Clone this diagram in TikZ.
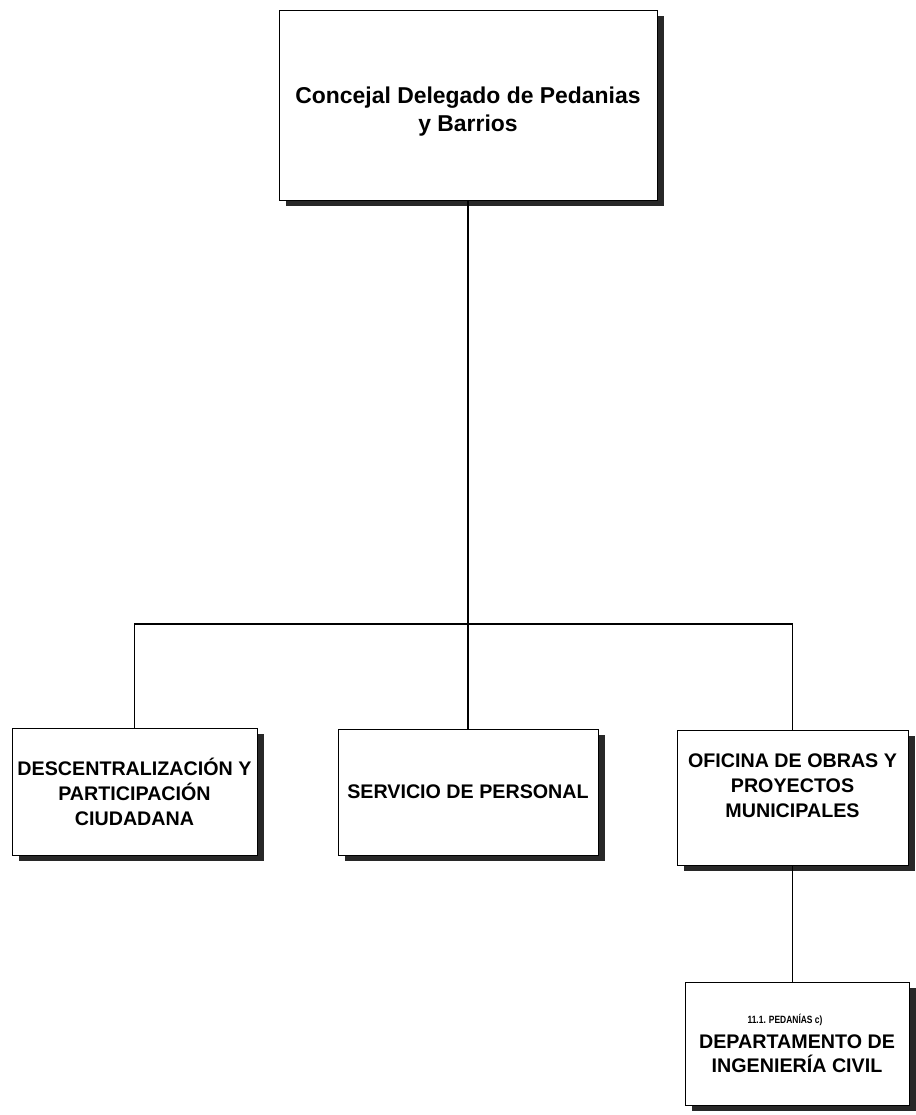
\documentclass[tikz,border=0pt]{standalone}
\usepackage{fontspec}
\setmainfont{Liberation Sans}
\usepackage{tikz}
\usetikzlibrary{positioning, calc, shadows}
\definecolor{myshadow}{RGB}{40,40,40}
\tikzset{
  unitbox/.style={rectangle, draw=black, fill=white, line width=0.6pt, align=center, inner sep=2pt,
    drop shadow={shadow xshift=0.18cm, shadow yshift=-0.16cm, fill=myshadow, opacity=1}},
  headbox/.style={unitbox, minimum width=9.45cm, minimum height=4.75cm, font=\bfseries\fontsize{16.3}{19.8}\selectfont},
  deptbox/.style={unitbox, font=\bfseries\fontsize{14}{17.7}\selectfont},
  line/.style={line width=1pt, color=black}
}

\begin{document}
\begin{tikzpicture}[x=0.025cm, y=-0.025cm]
  \useasboundingbox (0,0) rectangle (915,1115);

  % Concejal
  \node[headbox] (concejal) at (468,105) {\rule{0pt}{0.75cm}Concejal Delegado de Pedanias\\y Barrios};

  % Second level
  \node[deptbox, minimum width=6.125cm, minimum height=3.175cm] (descent) at (134.5,791.5) {DESCENTRALIZACI\'ON Y\\PARTICIPACI\'ON\\CIUDADANA};
  \node[deptbox, minimum width=6.5cm, minimum height=3.15cm] (personal) at (468,792) {SERVICIO DE PERSONAL};
  \node[deptbox, minimum width=5.775cm, minimum height=3.375cm] (obras) at (792.5,797.5) {OFICINA DE OBRAS Y\\PROYECTOS\\MUNICIPALES\rule[-0.6cm]{0pt}{0pt}};

  % Third level
  \node[deptbox, minimum width=5.6cm, minimum height=3.075cm] (ingenieria) at (797,1043.5)
    {\scalebox{0.8}[1]{\fontsize{7.5}{9}\selectfont 11.1. PEDAN\'IAS c)}\hspace*{0.6cm}\\DEPARTAMENTO DE\\INGENIER\'IA CIVIL};

  % Connectors
  \coordinate (bus) at (468,624);
  \draw[line] (concejal.south) -- (bus);
  \draw[line] (bus) -| (descent.north);
  \draw[line] (bus) -- (personal.north);
  \draw[line] (bus) -| (obras.north);
  \draw[line] (obras.south) -- (obras.south |- ingenieria.north);
\end{tikzpicture}
\end{document}
